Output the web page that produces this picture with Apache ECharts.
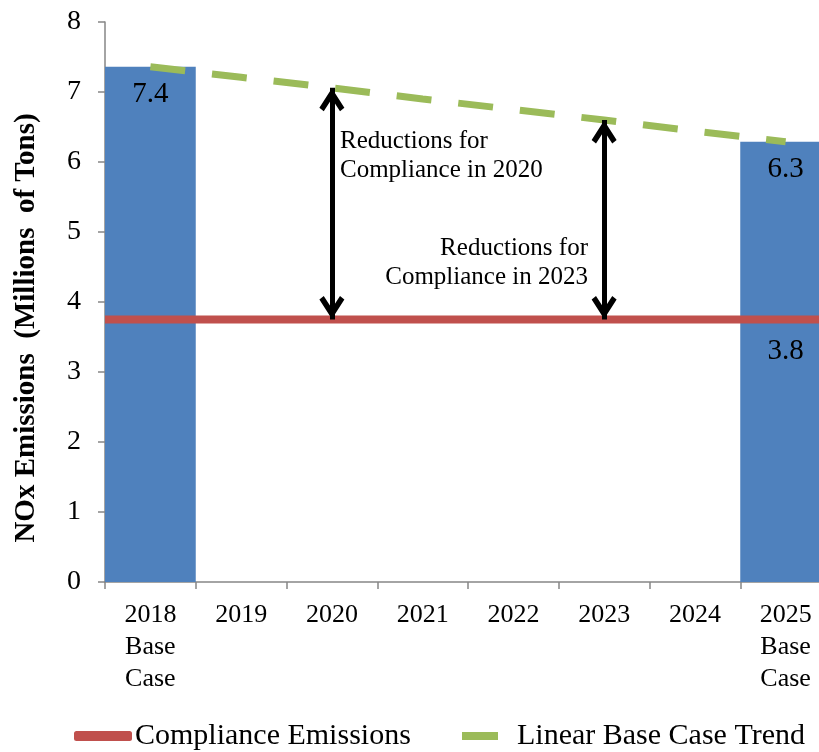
<!DOCTYPE html>
<html>
<head>
<meta charset="utf-8">
<script src="https://cdn.jsdelivr.net/npm/echarts@6/dist/echarts.min.js"></script>
<style>
  html, body { margin: 0; padding: 0; background: #fff; }
  #chart { width: 819px; height: 752px; }
</style>
</head>
<body>
<div id="chart"></div>
<script>
  // data
  var categories = ['2018\nBase\nCase', '2019', '2020', '2021', '2022', '2023', '2024', '2025\nBase\nCase'];
  var baseCase = [7.36, '-', '-', '-', '-', '-', '-', 6.29];
  var trend = [7.36, 7.21, 7.06, 6.9, 6.75, 6.6, 6.44, 6.29];
  var compliance = 3.75;
  var arrowYears = [2, 5]; // 2020, 2023

  var serif = 'Liberation Serif';
  var chart = echarts.init(document.getElementById('chart'));

  // chevron arrow head, tip at the centre of its box (the lone M pads the box)
  var chevron = 'path://M10,-21 M10,0 L20,17 L16.5,20 L10,9 L3.5,20 L0,17 Z';

  var arrows = arrowYears.map(function (i) {
    return [{ coord: [i, compliance] }, { coord: [i, trend[i]] }];
  });

  var option = {
    animation: false,
    grid: { left: 105, top: 22, right: -12, bottom: 170, containLabel: false, outerBoundsMode: 'none' },
    legend: [{
      data: ['Compliance Emissions'],
      left: 74, top: 719, padding: 0,
      icon: 'roundRect', itemWidth: 58, itemHeight: 10,
      textStyle: { fontFamily: serif, fontSize: 30, color: '#000', lineHeight: 34, padding: [0, 0, 0, -2] }
    }, {
      data: ['Linear Base Case Trend'],
      left: 462, top: 719, padding: 0,
      icon: 'rect', itemWidth: 36, itemHeight: 8,
      textStyle: { fontFamily: serif, fontSize: 30, color: '#000', lineHeight: 34, padding: [0, 0, 0, 14] }
    }],
    xAxis: [{
      type: 'category',
      data: categories,
      axisLine: { lineStyle: { color: '#868686', width: 1.5 } },
      axisTick: { show: true, length: 7, lineStyle: { color: '#868686', width: 1.5 } },
      axisLabel: { fontFamily: serif, fontSize: 26, color: '#000', lineHeight: 32, margin: 17, interval: 0 }
    }, {
      type: 'value', min: 0, max: 8, show: false
    }],
    yAxis: {
      type: 'value', min: 0, max: 8, interval: 1,
      name: 'NOx Emissions  (Millions  of Tons)',
      nameLocation: 'middle', nameGap: 64,
      nameTextStyle: { fontFamily: serif, fontSize: 29, fontWeight: 'bold', color: '#000', padding: [0, 0, 0, -52] },
      axisLine: { show: true, lineStyle: { color: '#868686', width: 1.5 } },
      axisTick: { show: true, length: 7, lineStyle: { color: '#868686', width: 1.5 } },
      splitLine: { show: false },
      axisLabel: { fontFamily: serif, fontSize: 28, color: '#000', margin: 24 }
    },
    series: [{
      name: 'Base Case',
      type: 'bar',
      data: baseCase,
      barCategoryGap: '0%',
      itemStyle: { color: '#4F81BD' },
      label: {
        show: true, position: 'insideTop', distance: 13,
        fontFamily: serif, fontSize: 29, color: '#000',
        formatter: function (p) { return p.value.toFixed(1); }
      },
      z: 1
    }, {
      name: 'Compliance Emissions',
      type: 'line',
      xAxisIndex: 1,
      data: [
        { value: [0, compliance], symbol: 'none' },
        {
          value: [7.5, compliance], symbol: 'circle', symbolSize: 1,
          label: {
            show: true, position: 'bottom', distance: 17,
            fontFamily: serif, fontSize: 29, color: '#000',
            formatter: function (p) { return p.value[1].toFixed(1); }
          }
        },
        { value: [8, compliance], symbol: 'none' }
      ],
      showSymbol: true,
      lineStyle: { color: '#C0504D', width: 8 },
      itemStyle: { color: '#C0504D' },
      z: 3
    }, {
      // empty entry so the legend key is a plain solid swatch, as in the original
      name: 'Linear Base Case Trend',
      type: 'scatter',
      data: [],
      symbol: 'rect',
      itemStyle: { color: '#9BBB59', opacity: 1 }
    }, {
      name: 'Linear Base Case Trend',
      type: 'line',
      data: trend,
      symbol: 'none',
      lineStyle: { color: '#9BBB59', width: 7, type: [35, 27] },
      itemStyle: { color: '#9BBB59' },
      z: 4,
      markLine: {
        silent: true,
        symbol: [chevron, chevron],
        symbolSize: [25, 47],
        label: { show: false },
        lineStyle: { color: '#000', width: 5, type: 'solid' },
        data: arrows
      }
    }],
    graphic: [{
      type: 'text', left: 340, top: 127,
      style: {
        text: 'Reductions for\nCompliance in 2020',
        font: '25px "Liberation Serif"', lineHeight: 29, fill: '#000', textAlign: 'left'
      }
    }, {
      type: 'text', right: 231, top: 234,
      style: {
        text: 'Reductions for\nCompliance in 2023',
        font: '25px "Liberation Serif"', lineHeight: 29, fill: '#000', textAlign: 'right'
      }
    }]
  };

  chart.setOption(option);
</script>
</body>
</html>
